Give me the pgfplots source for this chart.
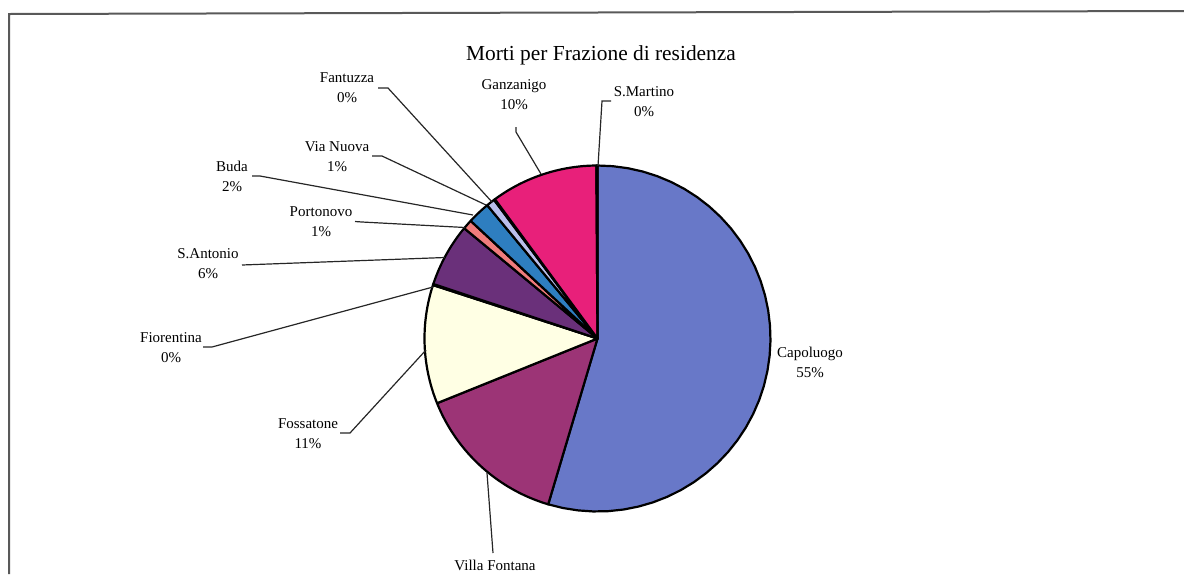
\documentclass[border=0pt]{standalone}
\usepackage{fontspec}
\setmainfont{Liberation Serif}
\usepackage{pgfplots}
\pgfplotsset{compat=1.18}
\definecolor{cCap}{RGB}{104,120,200}
\definecolor{cVil}{RGB}{156,52,118}
\definecolor{cFos}{RGB}{255,255,228}
\definecolor{cFio}{RGB}{200,235,245}
\definecolor{cAnt}{RGB}{106,48,122}
\definecolor{cPor}{RGB}{240,124,124}
\definecolor{cBud}{RGB}{46,126,192}
\definecolor{cVia}{RGB}{186,190,236}
\definecolor{cFan}{RGB}{120,40,110}
\definecolor{cGan}{RGB}{232,32,122}
\definecolor{cMar}{RGB}{200,220,250}
\newcommand{\lbl}{\fontsize{7.5}{10}\selectfont}
% slice: colour, cumulative start %, cumulative end %
\newcommand{\pieslice}[3]{\addplot[draw=black, line width=1.1pt, line join=round, fill=#1, domain=#2:#3, samples=40, variable=\t] ({597.5+173*sin(3.6*\t)},{338.5-173*cos(3.6*\t)}) -- (axis cs:597.5,338.5) -- cycle;}
\begin{document}
\begin{tikzpicture}
\begin{axis}[name=ax, width=592pt, height=287pt, scale only axis,
  xmin=0, xmax=1184, ymin=0, ymax=574, y dir=reverse, hide axis, clip=false]
% frame
\addplot[draw=black!65, line width=1pt] coordinates {(9,574) (9,14) (1184,11)};
% shares (%): Capoluogo 54.6, Villa Fontana 14.3, Fossatone 11.1, Fiorentina 0.1,
% S.Antonio 5.9, Portonovo 0.9, Buda 2.1, Via Nuova 0.8, Fantuzza 0.1,
% Ganzanigo 10.0, S.Martino 0.1
\pieslice{cCap}{0}{54.6}
\pieslice{cVil}{54.6}{68.9}
\pieslice{cFos}{68.9}{80.0}
\pieslice{cFio}{80.0}{80.1}
\pieslice{cAnt}{80.1}{86.0}
\pieslice{cPor}{86.0}{86.9}
\pieslice{cBud}{86.9}{89.0}
\pieslice{cVia}{89.0}{89.8}
\pieslice{cFan}{89.8}{89.9}
\pieslice{cGan}{89.9}{99.9}
\pieslice{cMar}{99.9}{100}
% leader lines
\addplot[black!85, line width=0.6pt] coordinates {(487,473) (493,553)};
\addplot[black!85, line width=0.6pt] coordinates {(340,433) (350,433) (426,350)};
\addplot[black!85, line width=0.6pt] coordinates {(203,347) (212,347) (433,287)};
\addplot[black!85, line width=0.6pt] coordinates {(242,265) (445,257.5)};
\addplot[black!85, line width=0.6pt] coordinates {(355,221.5) (362,222) (465,227.5)};
\addplot[black!85, line width=0.6pt] coordinates {(252,176) (260,176) (473,215)};
\addplot[black!85, line width=0.6pt] coordinates {(372,156) (382,156) (486,205)};
\addplot[black!85, line width=0.6pt] coordinates {(378,88) (388,88) (492,202)};
\addplot[black!85, line width=0.6pt] coordinates {(516,127) (516,132) (541,174)};
\addplot[black!85, line width=0.6pt] coordinates {(611,101) (602,101) (598,166)};
% title and labels
\node[anchor=base, font=\fontsize{10.7}{13}\selectfont] at (axis cs:601,60) {Morti per Frazione di residenza};
\node[font=\lbl, align=center] at (axis cs:810,362.5) {Capoluogo\\55\%};
\node[font=\lbl, anchor=base] at (axis cs:495,570) {Villa Fontana};
\node[font=\lbl, align=center] at (axis cs:308,433.5) {Fossatone\\11\%};
\node[font=\lbl, align=center] at (axis cs:171,347.5) {Fiorentina\\0\%};
\node[font=\lbl, align=center] at (axis cs:208,263.5) {S.Antonio\\6\%};
\node[font=\lbl, align=center] at (axis cs:321,222) {Portonovo\\1\%};
\node[font=\lbl, align=center] at (axis cs:232,176.5) {Buda\\2\%};
\node[font=\lbl, align=center] at (axis cs:337,156.5) {Via Nuova\\1\%};
\node[font=\lbl, align=center] at (axis cs:347,87.5) {Fantuzza\\0\%};
\node[font=\lbl, align=center] at (axis cs:514,94.5) {Ganzanigo\\10\%};
\node[font=\lbl, align=center] at (axis cs:644,102) {S.Martino\\0\%};
\end{axis}
\pgfresetboundingbox
\path[use as bounding box] (ax.south west) rectangle (ax.north east);
\end{tikzpicture}
\end{document}
